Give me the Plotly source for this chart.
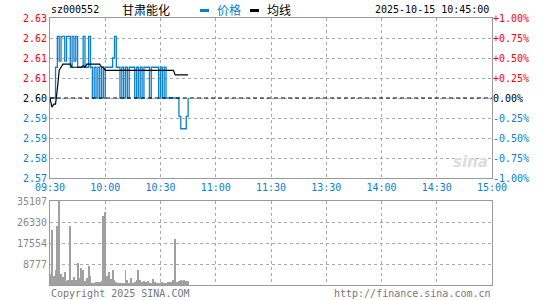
import plotly.graph_objects as go

W, H = 545, 300

# ---------------- data ----------------
stock_code = "sz000552"
stock_name = "甘肃能化"
timestamp = "2025-10-15 10:45:00"
prev_close = 2.60

minutes = list(range(76))  # minutes since 09:30

price = [2.60, 2.60, 2.60, 2.61, 2.62, 2.612, 2.62, 2.62, 2.612, 2.62,
         2.62, 2.61, 2.62, 2.612, 2.62, 2.61, 2.61, 2.61, 2.62, 2.61,
         2.61, 2.62, 2.61, 2.60, 2.61, 2.60, 2.61, 2.60, 2.61, 2.60,
         2.61, 2.61, 2.61, 2.61, 2.613, 2.62, 2.61, 2.61, 2.60, 2.61,
         2.60, 2.61, 2.60, 2.61, 2.61, 2.61, 2.60, 2.61, 2.60, 2.61,
         2.60, 2.61, 2.61, 2.61, 2.60, 2.61, 2.61, 2.61, 2.61, 2.60,
         2.61, 2.60, 2.61, 2.60, 2.60, 2.60, 2.60, 2.60, 2.60, 2.60,
         2.594, 2.59, 2.59, 2.59, 2.594, 2.60]

avg_price = [2.600, 2.597, 2.598, 2.598, 2.603, 2.609, 2.610, 2.611, 2.611, 2.611,
             2.611, 2.611, 2.610, 2.610, 2.610, 2.610, 2.610, 2.610, 2.6105, 2.610,
             2.611, 2.611, 2.611, 2.611, 2.611, 2.611, 2.611, 2.611, 2.610, 2.610,
             2.609, 2.609, 2.609, 2.609, 2.609, 2.609, 2.609, 2.609, 2.609, 2.609,
             2.609, 2.609, 2.609, 2.609, 2.609, 2.609, 2.609, 2.609, 2.609, 2.609,
             2.609, 2.609, 2.609, 2.609, 2.609, 2.609, 2.609, 2.609, 2.609, 2.609,
             2.609, 2.609, 2.609, 2.609, 2.609, 2.609, 2.609, 2.609, 2.6075, 2.6075,
             2.6075, 2.6075, 2.6075, 2.6075, 2.6075, 2.6075]

volume = [4700, 23000, 3600, 6400, 24700, 35107, 4700, 3300, 5300, 1500,
          2200, 24700, 2200, 3200, 2200, 9300, 2800, 7200, 6100, 1500,
          2800, 8000, 3900, 800, 800, 1100, 1400, 1200, 1500, 28900,
          30500, 3600, 5300, 2500, 6100, 2200, 1100, 800, 550, 550,
          550, 6400, 1900, 800, 2800, 800, 1100, 1900, 6400, 1900,
          1400, 1700, 1250, 1500, 800, 800, 2600, 1100, 550, 800,
          550, 1100, 950, 800, 1100, 1400, 1400, 1900, 19300, 1100,
          1700, 1900, 1800, 1900, 1800, 1500]

time_tickvals = [0, 30, 60, 90, 120, 150, 180, 210, 240]
time_labels = ["09:30", "10:00", "10:30", "11:00", "11:30", "13:30", "14:00", "14:30", "15:00"]

pct_levels = [1.0, 0.75, 0.5, 0.25, 0.0, -0.25, -0.5, -0.75, -1.0]
price_labels = ["2.63", "2.62", "2.61", "2.61", "2.60", "2.59", "2.59", "2.58", "2.57"]
pct_labels = ["+1.00%", "+0.75%", "+0.50%", "+0.25%", "0.00%", "-0.25%", "-0.50%", "-0.75%", "-1.00%"]

vol_tickvals = [8777, 17554, 26330, 35107]
vol_labels = ["8777", "17554", "26330", "35107"]

# ---------------- styles ----------------
BLUE = "#0a80d0"
RED = "#ff0000"
GRID = "#aaaaaa"
BORDER = "#999999"
MONO = "DejaVu Sans Mono"
CJK = "Noto Sans CJK SC"


def colored(lbl, p):
    c = RED if p > 0 else ("#000000" if p == 0 else BLUE)
    return f"<span style='color:{c}'>{lbl}</span>"


def xp(x):
    return x / W


def yp(y):
    return 1 - y / H


plot_l, plot_r = 50, 492
main_t, main_b = 18, 178
vol_t, vol_b = 201, 285

price_tickvals = [prev_close * (1 + p / 100) for p in pct_levels]
pct_change = [(p / prev_close - 1) * 100 for p in price]

fig = go.Figure()

fig.add_trace(go.Bar(x=minutes, y=volume, xaxis="x2", yaxis="y2",
                     marker=dict(color="#a0a0a0", line=dict(width=0)),
                     width=0.5, showlegend=False, hoverinfo="skip"))

fig.add_trace(go.Scatter(x=minutes, y=price, xaxis="x", yaxis="y", mode="lines",
                         line=dict(color=BLUE, width=1.3, shape="hv"), showlegend=False))
fig.add_trace(go.Scatter(x=minutes, y=avg_price, xaxis="x", yaxis="y", mode="lines",
                         line=dict(color="#000000", width=1.2), showlegend=False))
# invisible trace to host the percent axis
fig.add_trace(go.Scatter(x=minutes, y=pct_change, xaxis="x", yaxis="y3", mode="lines",
                         line=dict(color="rgba(0,0,0,0)", width=0), showlegend=False,
                         hoverinfo="skip"))

axis_common = dict(showline=True, mirror=True, linecolor=BORDER, linewidth=1,
                   showgrid=True, gridcolor=GRID, griddash="dot", gridwidth=1,
                   zeroline=False, ticks="", automargin=False)

fig.update_layout(
    width=W, height=H,
    margin=dict(l=0, r=0, t=0, b=0, autoexpand=False),
    paper_bgcolor="white", plot_bgcolor="white",
    bargap=0,
    xaxis=dict(domain=[xp(plot_l), xp(plot_r)], range=[0, 240], anchor="y",
               tickvals=time_tickvals, ticktext=time_labels,
               tickfont=dict(family=MONO, size=10, color=BLUE), **axis_common),
    yaxis=dict(domain=[yp(main_b), yp(main_t)],
               range=[prev_close * 0.99, prev_close * 1.01], anchor="x",
               tickvals=price_tickvals,
               ticktext=[colored(l, p) for l, p in zip(price_labels, pct_levels)],
               tickfont=dict(family=MONO, size=10), **axis_common),
    yaxis3=dict(overlaying="y", side="right", anchor="x", range=[-1, 1],
                tickvals=pct_levels,
                ticktext=[colored(l, p) for l, p in zip(pct_labels, pct_levels)],
                tickfont=dict(family=MONO, size=10), showgrid=False, zeroline=False,
                showline=False, ticks="", automargin=False),
    xaxis2=dict(domain=[xp(plot_l), xp(plot_r)], range=[0, 240], anchor="y2",
                tickvals=time_tickvals, showticklabels=False, **axis_common),
    yaxis2=dict(domain=[yp(vol_b), yp(vol_t)], range=[0, 35107], anchor="x2",
                tickvals=vol_tickvals, ticktext=vol_labels,
                tickfont=dict(family=MONO, size=10, color="#888888"), **axis_common),
)

# previous close line
fig.add_shape(type="line", xref="x", yref="y", x0=0, x1=240, y0=prev_close, y1=prev_close,
              line=dict(color="#000000", width=1, dash="4px,3px"))

# header
ann = [
    dict(x=xp(49), y=yp(10), text=stock_code, xanchor="left",
         font=dict(family=MONO, size=10, color="#000")),
    dict(x=xp(120), y=yp(10), text=stock_name, xanchor="left",
         font=dict(family=CJK, size=12, color="#000")),
    dict(x=xp(215), y=yp(10), text="价格", xanchor="left",
         font=dict(family=CJK, size=12, color=BLUE)),
    dict(x=xp(265), y=yp(10), text="均线", xanchor="left",
         font=dict(family=CJK, size=12, color="#000")),
    dict(x=xp(491), y=yp(10), text=timestamp, xanchor="right",
         font=dict(family=MONO, size=10, color="#000")),
    dict(x=xp(49), y=yp(293), text="Copyright 2025 SINA.COM", xanchor="left",
         font=dict(family=MONO, size=10, color="#777777")),
    dict(x=xp(493), y=yp(293), text="http://finance.sina.com.cn", xanchor="right",
         font=dict(family=MONO, size=10, color="#777777")),
    dict(x=xp(490), y=yp(162), text="<b><i>sina</i></b>", xanchor="right",
         font=dict(family="DejaVu Sans", size=15, color="#dddddd")),
]
for a in ann:
    a.update(xref="paper", yref="paper", showarrow=False, yanchor="middle")
    fig.add_annotation(**a)

for x0, c in [(200, BLUE), (250, "#000000")]:
    fig.add_shape(type="rect", xref="paper", yref="paper",
                  x0=xp(x0), x1=xp(x0 + 9), y0=yp(12), y1=yp(9),
                  line=dict(width=0), fillcolor=c)

fig.write_html("out.html")
